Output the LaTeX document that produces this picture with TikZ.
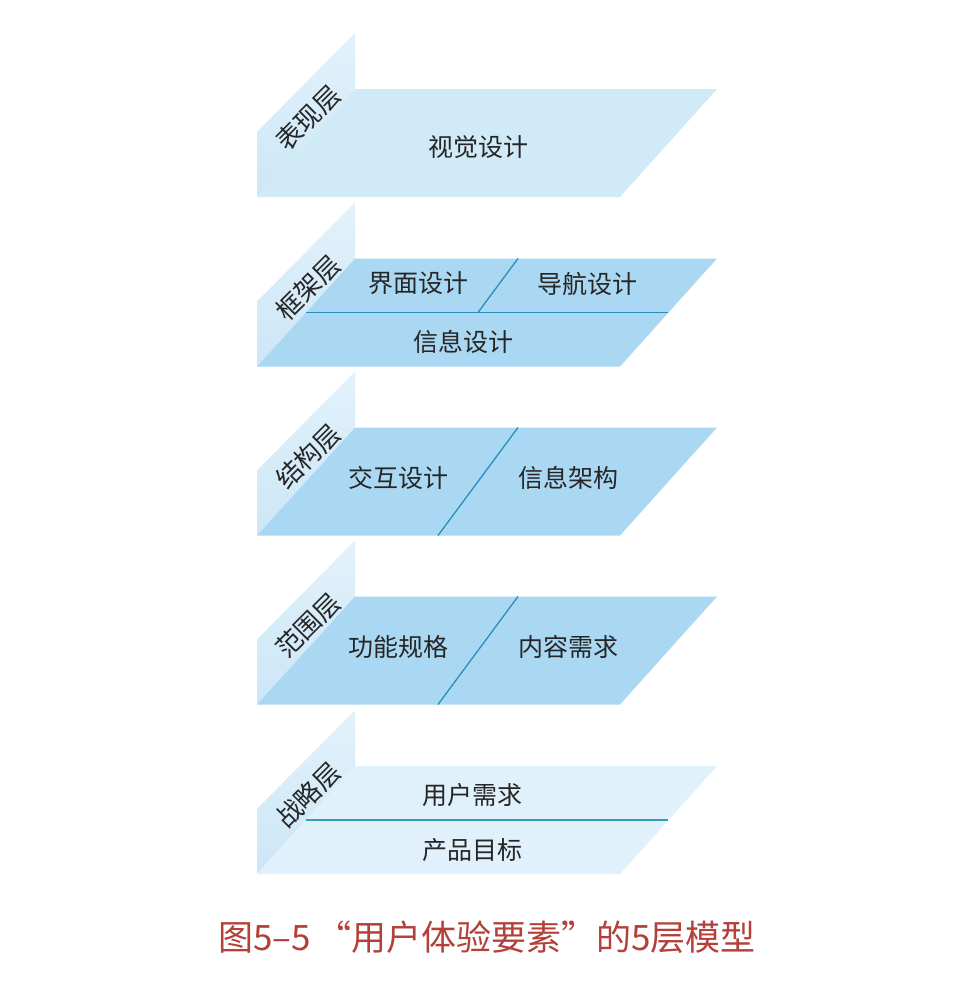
\documentclass[tikz,border=0pt]{standalone}
\usepackage{fontspec}
\newfontfamily\cjk{Noto Sans CJK SC}
\definecolor{wallc}{RGB}{216,236,248}
\definecolor{walltop}{RGB}{226,242,251}
\definecolor{wallbot}{RGB}{204,230,246}
\definecolor{plateA}{RGB}{208,234,248}
\definecolor{plateB}{RGB}{170,216,242}
\definecolor{plateC}{RGB}{224,241,251}
\definecolor{linec}{RGB}{40,142,192}
\definecolor{linet}{RGB}{50,160,175}
\definecolor{capc}{RGB}{180,64,58}
\begin{document}
\begin{tikzpicture}[x=1pt,y=-1pt,
  wall/.style={top color=walltop,bottom color=wallbot,draw=none},
  divline/.style={draw=linec,line width=1.3pt},
  walltext/.style={font=\cjk\fontsize{26}{28}\selectfont,rotate=45,text=black!85,inner sep=0pt},
  platetext/.style={font=\cjk\fontsize{25}{28}\selectfont,text=black!85,inner sep=0pt}]
\useasboundingbox (0,0) rectangle (976,998);
\fill[white] (0,0) rectangle (976,998);
% layer 1
\begin{scope}[yshift=0pt]
\path[wall] (257,132)--(355,33)--(355,89)--(257,197)--cycle;
\fill[plateA] (257,197)--(620,197)--(717,89)--(355,89)--cycle;
\node[walltext] (w1) at (308,118) {表现层};
\node[platetext] (t1) at (478,147) {视觉设计};
\end{scope}
% layer 2
\begin{scope}[yshift=-169.5pt]
\path[wall] (257,132)--(355,33)--(355,89)--(257,197)--cycle;
\fill[plateB] (257,197)--(620,197)--(717,89)--(355,89)--cycle;
\coordinate (h2a) at (306,143);
\coordinate (h2b) at (668,143);
\coordinate (d2a) at (518,89);
\coordinate (d2b) at (478,143);
\draw[divline] (h2a)--(h2b);
\draw[divline] (d2a)--(d2b);
\node[walltext] (w2) at (308,118) {框架层};
\node[platetext] (t2a) at (418,114) {界面设计};
\node[platetext] (t2b) at (587,114) {导航设计};
\node[platetext] (t2c) at (463,172) {信息设计};
\end{scope}
% layer 3
\begin{scope}[yshift=-338.5pt]
\path[wall] (257,132)--(355,33)--(355,89)--(257,197)--cycle;
\fill[plateB] (257,197)--(620,197)--(717,89)--(355,89)--cycle;
\coordinate (d3a) at (518,89);
\coordinate (d3b) at (438,197);
\draw[divline] (d3a)--(d3b);
\node[walltext] (w3) at (308,118) {结构层};
\node[platetext] (t3a) at (398,139) {交互设计};
\node[platetext] (t3b) at (568,139) {信息架构};
\end{scope}
% layer 4
\begin{scope}[yshift=-507.5pt]
\path[wall] (257,132)--(355,33)--(355,89)--(257,197)--cycle;
\fill[plateB] (257,197)--(620,197)--(717,89)--(355,89)--cycle;
\coordinate (d4a) at (518,89);
\coordinate (d4b) at (438,197);
\draw[divline] (d4a)--(d4b);
\node[walltext] (w4) at (308,118) {范围层};
\node[platetext] (t4a) at (398,139) {功能规格};
\node[platetext] (t4b) at (568,139) {内容需求};
\end{scope}
% layer 5
\begin{scope}[yshift=-677pt]
\path[wall] (257,132)--(355,33)--(355,89)--(257,197)--cycle;
\fill[plateC] (257,197)--(620,197)--(717,89)--(355,89)--cycle;
\coordinate (h5a) at (306,143);
\coordinate (h5b) at (668,143);
\draw[divline,draw=linet] (h5a)--(h5b);
\node[walltext] (w5) at (308,118) {战略层};
\node[platetext] (t5a) at (472,118) {用户需求};
\node[platetext] (t5b) at (472,173) {产品目标};
\end{scope}
\node[font=\cjk\fontsize{35}{38}\selectfont,text=capc,inner sep=0pt] (cap) at (487,937) {图5–5\,“用户体验要素”的5层模型};
\end{tikzpicture}
\end{document}
